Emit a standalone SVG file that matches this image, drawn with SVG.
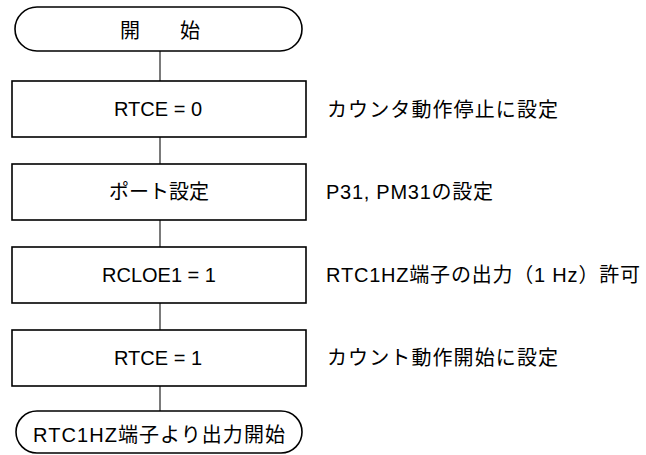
<svg xmlns="http://www.w3.org/2000/svg" width="646" height="455" viewBox="0 0 646 455">
<style>
.shape{fill:#fff;stroke:#000;stroke-width:1.6}
.conn{stroke:#222;stroke-width:1.2;fill:none}
text{font-family:"Liberation Sans","Noto Sans CJK JP",sans-serif;font-size:20px;fill:#000}
.c{text-anchor:middle}
</style>
<rect width="646" height="455" fill="#fff"/>
<g id="connectors">
<line class="conn" x1="160" y1="51" x2="160" y2="81"/>
<line class="conn" x1="160" y1="137" x2="160" y2="164"/>
<line class="conn" x1="160" y1="220" x2="160" y2="247"/>
<line class="conn" x1="160" y1="303" x2="160" y2="330"/>
<line class="conn" x1="160" y1="386" x2="160" y2="411"/>
</g>
<g id="start">
<rect class="shape" x="15" y="7" width="287" height="44" rx="22" ry="22"/>
<text class="c" x="160" y="38">開　　始</text>
</g>
<g id="step1">
<rect class="shape" x="12" y="81" width="294" height="56"/>
<text class="c" x="158" y="116">RTCE = 0</text>
</g>
<g id="step2">
<rect class="shape" x="12" y="164" width="294" height="56"/>
<text class="c" x="159" y="199">ポート設定</text>
</g>
<g id="step3">
<rect class="shape" x="12" y="247" width="294" height="56"/>
<text class="c" x="159" y="282">RCLOE1 = 1</text>
</g>
<g id="step4">
<rect class="shape" x="12" y="330" width="294" height="56"/>
<text class="c" x="158" y="365">RTCE = 1</text>
</g>
<g id="end">
<rect class="shape" x="16" y="411" width="286" height="42" rx="21" ry="21"/>
<text x="33" y="442" textLength="252" lengthAdjust="spacing">RTC1HZ端子より出力開始</text>
</g>
<g id="notes">
<text x="327" y="117" textLength="231" lengthAdjust="spacing">カウンタ動作停止に設定</text>
<text x="326" y="199" textLength="167" lengthAdjust="spacing">P31, PM31の設定</text>
<text x="326" y="282" textLength="314" lengthAdjust="spacing">RTC1HZ端子の出力（1 Hz）許可</text>
<text x="327" y="365" textLength="231" lengthAdjust="spacing">カウント動作開始に設定</text>
</g>
</svg>
